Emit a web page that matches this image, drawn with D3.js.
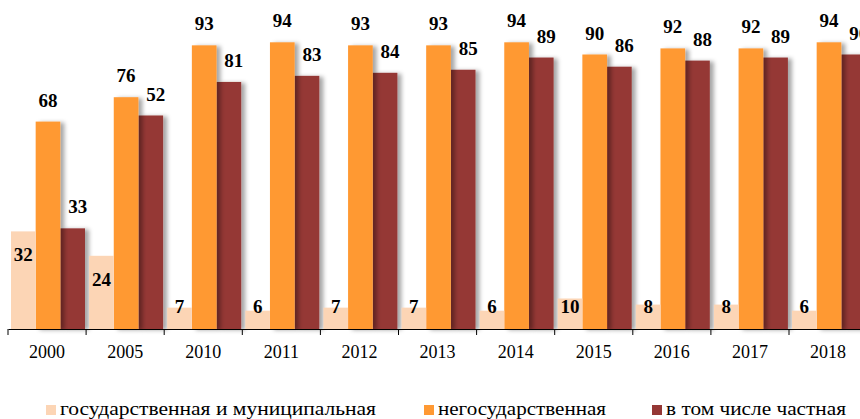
<!DOCTYPE html>
<html lang="ru">
<head>
<meta charset="UTF-8">
<title>chart</title>
<script src="https://cdn.jsdelivr.net/npm/d3@7"></script>
<style>
  body { margin: 0; background: #fff; overflow: hidden; }
</style>
</head>
<body>
<script>
const years = ["2000", "2005", "2010", "2011", "2012", "2013", "2014", "2015", "2016", "2017", "2018"];
const state = [32, 24, 7, 6, 7, 7, 6, 10, 8, 8, 6];
const nonState = [68, 76, 93, 94, 93, 93, 94, 90, 92, 92, 94];
const privateOnes = [33, 52, 81, 83, 84, 85, 89, 86, 88, 89, 90];
// in the original the 2005 "частная" bar is drawn at about 70 though it is labelled 52
const privateBars = [33, 70, 81, 83, 84, 85, 89, 86, 88, 89, 90];
const seriesNames = ["государственная и муниципальная", "негосударственная", "в том числе частная"];
const colors = ["#fcd5b5", "#ff9933", "#953735"];

const FONT = "'Liberation Serif', 'Times New Roman', 'DejaVu Serif', serif";
const W = 860, H = 419;
const base = 329;

const svg = d3.select("body").append("svg").attr("width", W).attr("height", H)
  .style("font-family", FONT);

// drop shadow like the original
const defs = svg.append("defs");
const f = defs.append("filter").attr("id", "sh").attr("x", "-20%").attr("y", "-10%").attr("width", "160%").attr("height", "120%");
f.append("feDropShadow").attr("dx", 4).attr("dy", 1).attr("stdDeviation", 2)
  .attr("flood-color", "#000").attr("flood-opacity", 0.35);

const x = d3.scaleBand().domain(years).range([8, 8 + 11 * 78.1]).padding(0);
const inner = d3.scaleBand().domain([0, 1, 2]).range([3, 77]).padding(0);
const y = d3.scaleLinear().domain([0, 100]).range([base, 24]);

const series = [state, nonState, privateBars];

const g = svg.append("g");
// dark first, then orange, then light, so shadows fall on the neighbour
[2, 1, 0].forEach(s => {
  g.selectAll(".b" + s).data(years).enter().append("rect")
    .attr("x", (d) => x(d) + inner(s))
    .attr("width", inner.bandwidth())
    .attr("y", (d, i) => y(series[s][i]))
    .attr("height", (d, i) => base - y(series[s][i]))
    .attr("fill", colors[s])
    .attr("filter", s === 0 ? null : "url(#sh)");
});

// value labels
const lab = svg.append("g").attr("font-weight", "bold").attr("font-size", 19)
  .attr("font-family", FONT).attr("text-anchor", "middle").attr("fill", "#000");
lab.selectAll(".l0").data(years).enter().append("text")
  .attr("x", d => x(d) + inner(0) + inner.bandwidth() / 2)
  .attr("y", (d, i) => Math.min(y(state[i]) + 30, 313))
  .text((d, i) => state[i]);
lab.selectAll(".l1").data(years).enter().append("text")
  .attr("x", d => x(d) + inner(1) + inner.bandwidth() / 2)
  .attr("y", (d, i) => y(nonState[i]) - 15)
  .text((d, i) => nonState[i]);
lab.selectAll(".l2").data(years).enter().append("text")
  .attr("x", d => x(d) + inner(2) + inner.bandwidth() / 2 + 5)
  .attr("y", (d, i) => y(privateBars[i]) - 15)
  .text((d, i) => privateOnes[i]);

// axis
const ax = svg.append("g").attr("transform", `translate(0,${base})`)
  .call(d3.axisBottom(x).tickSize(0).tickPadding(16));
ax.attr("font-family", FONT).attr("font-size", 18);
ax.select(".domain").attr("stroke", "#000").attr("stroke-width", 1.2);
ax.selectAll(".tick text").attr("fill", "#000");
ax.selectAll(".sep").data(years).enter().append("line")
  .attr("x1", d => x(d)).attr("x2", d => x(d))
  .attr("y1", 0).attr("y2", 6).attr("stroke", "#000");

// legend (text in the original is drawn wider than the font, so stretch it)
const legendX = [46, 424, 652];
const legendLen = [316, 168, 180];
const leg = svg.append("g").attr("font-family", FONT).attr("font-size", 19);
seriesNames.forEach((n, i) => {
  leg.append("rect").attr("x", legendX[i]).attr("y", 405).attr("width", 10).attr("height", 10).attr("fill", colors[i]);
  leg.append("text").attr("x", legendX[i] + 14).attr("y", 415).attr("fill", "#000")
    .attr("textLength", legendLen[i]).attr("lengthAdjust", "spacingAndGlyphs").text(n);
});
</script>
</body>
</html>
